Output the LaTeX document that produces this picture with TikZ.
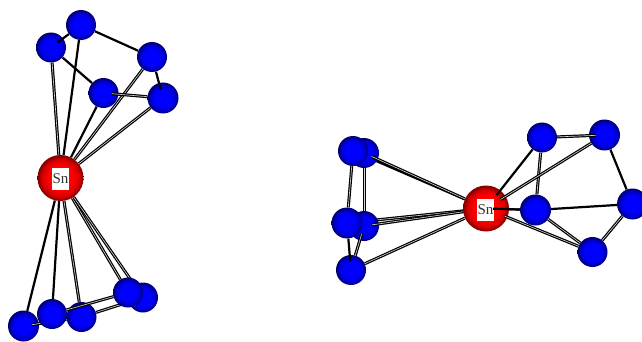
\documentclass[tikz,border=0pt]{standalone}
\usepackage{fontspec}
\setmainfont{Liberation Serif}
\pgfdeclarelayer{bondback}
\pgfdeclarelayer{bondfront}
\pgfdeclarelayer{ballfront}
\pgfsetlayers{bondback,main,bondfront,ballfront}
\definecolor{bluetop}{rgb}{0,0,1}
\definecolor{bluemid}{rgb}{0,0,0.8}
\definecolor{bluerim}{rgb}{0,0,0.42}
\definecolor{redtop}{rgb}{1,0,0}
\definecolor{redmid}{rgb}{0.84,0,0}
\definecolor{redrim}{rgb}{0.5,0,0}
\pgfdeclareradialshading{blueball}{\pgfpointorigin}{color(0bp)=(bluetop); color(13bp)=(bluetop); color(20bp)=(bluemid); color(25bp)=(bluerim); color(50bp)=(bluerim)}
\pgfdeclareradialshading{redball}{\pgfpointorigin}{color(0bp)=(redtop); color(14bp)=(redtop); color(20bp)=(redmid); color(25bp)=(redrim); color(50bp)=(redrim)}
\tikzset{
  ball/.style={circle, inner sep=0pt, minimum size=30pt, shading=blueball},
  tin/.style={circle, inner sep=0pt, minimum size=46pt, shading=redball},
  snlabel/.style={rectangle, inner sep=0pt, minimum width=17pt, minimum height=22pt, fill=white, font=\fontsize{15}{15}\selectfont, text=black!80},
  bond/.style={line width=2.2pt, black},
  dbond/.style={line width=1.2pt, black, double=white!85!black, double distance=0.6pt},
  into/.style={shorten >=-7pt}
}
\begin{document}
\begin{tikzpicture}[x=1pt, y=-1pt]
\useasboundingbox (0,0) rectangle (642,342);

% Left molecule
\node (sna) [tin] at (60.5,178) {};
\node (lab) [ball] at (51,47.5) {};
\node (lb) [ball] at (81,25) {};
\node (lc) [ball] at (152,57) {};
\node (ld) [ball] at (103.5,93) {};
\node (le) [ball, minimum size=31pt] at (163,98) {};
\node (lj) [ball] at (143,297.5) {};
\node (lh) [ball] at (81.5,317) {};
\node (lf) [ball, minimum size=31pt] at (23.5,326) {};
\begin{pgfonlayer}{ballfront}
\node (lg) [ball] at (52,314) {};
\node (li) [ball] at (128,292.5) {};
\end{pgfonlayer}

% Right molecule
\node (snb) [tin] at (486,208.5) {};
\node (rl) [ball] at (364,153) {};
\node (rk) [ball] at (353,151) {};
\node (rn) [ball] at (364,226) {};
\node (rm) [ball, minimum size=31pt] at (347,223) {};
\node (ro) [ball] at (351,270) {};
\node (rp) [ball] at (542,137.5) {};
\node (rq) [ball, minimum size=31pt] at (604.5,135) {};
\node (rr) [ball, minimum size=31pt] at (535.5,210) {};
\node (rs) [ball, minimum size=31pt] at (632.5,204) {};
\node (rt) [ball] at (592.5,252) {};

% Bonds behind the balls
\begin{pgfonlayer}{bondback}
\draw [bond] (lb) -- (lc);
\draw [bond] (lab) -- (ld);
\draw [dbond] (sna) -- (lab);
\draw [bond] (sna) -- (lb);
\draw [bond] (sna) -- (ld);
\draw [dbond] (sna) -- (lc);
\draw [dbond] (sna) -- (le);
\draw [bond] (sna) -- (lf);
\draw [bond] (sna) -- (lg);
\draw [dbond] (sna) -- (lh);
\draw [dbond] (sna) -- (li);
\draw [dbond] (sna) -- (lj);
\draw [dbond] (lh) -- (lj);
\draw [dbond] (rk) -- (rm);
\draw [dbond] (rl) -- (rn);
\draw [bond] (rk) -- (snb);
\draw [dbond] (rm) -- (snb);
\draw [dbond] (ro) -- (snb);
\draw [bond] (rq) -- (rs);
\draw [dbond] (rp) -- (rr);
\draw [bond] (rr) -- (rs);
\draw [dbond] (rs) -- (rt);
\draw [dbond] (rr) -- (rt);
\draw [bond] (rr) -- (snb);
\end{pgfonlayer}

% Bonds in front
\begin{pgfonlayer}{bondfront}
\draw [bond, into] (lb) -- (lab);
\draw [bond, into] (lc) -- (le);
\draw [dbond, into] (le) -- (ld);
\draw [dbond, into] (lh) -- (lf);
\draw [dbond] (li) -- (lg);
\draw [bond, into] (rm) -- (ro);
\draw [dbond, into] (ro) -- (rn);
\draw [dbond, into] (snb) -- (rl);
\draw [dbond, into] (snb) -- (rn);
\draw [dbond, into] (rp) -- (rq);
\draw [dbond, shorten <=-6pt] (snb) -- (rq);
\draw [bond, shorten <=-6pt] (snb) -- (rp);
\draw [dbond, shorten >=-3pt] (rt) -- (snb);
\end{pgfonlayer}

% Labels
\node (laba) [snlabel] at (60.5,179) {Sn};
\node (labb) [snlabel] at (485.5,209.5) {Sn};
\begin{pgfonlayer}{bondfront}
\draw [bond, shorten >=7pt] (rr) -- (snb.center);
\end{pgfonlayer}
\end{tikzpicture}
\end{document}
